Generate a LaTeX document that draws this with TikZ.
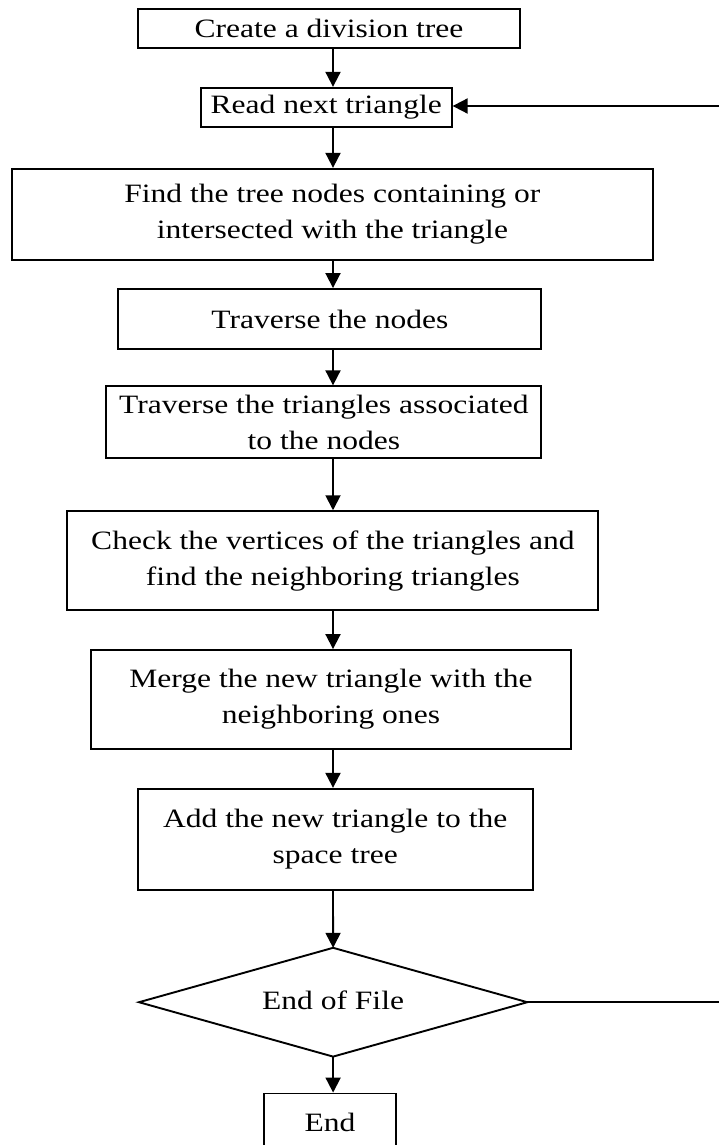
\documentclass[tikz,border=0pt]{standalone}
\usepackage{fontspec}
\setmainfont{Liberation Serif}[FakeStretch=1.19]
\usetikzlibrary{arrows.meta}
\begin{document}
\begin{tikzpicture}[x=1pt,y=-1pt,
  box/.style={draw,line width=1.9pt,inner sep=0pt,align=center,font=\fontsize{26.5}{36}\selectfont},
  label/.style={inner sep=0pt,align=center,font=\fontsize{26.5}{36}\selectfont},
  arr/.style={line width=1.9pt,-{Triangle[length=15pt,width=15pt]}},
  outline/.style={line width=1.9pt,line join=miter}]
\useasboundingbox (0,0) rectangle (719,1145);
\clip (0,0) rectangle (719,1145);
\fill[white] (0,0) rectangle (719,1145);
\coordinate (ax) at (333,0);
\node[box,minimum width=382pt,minimum height=39pt] (create) at (329,28.5) {Create a division tree};
\node[box,minimum width=251pt,minimum height=39pt] (read) at (326.2,107.3) {Read next triangle};
\node[box,minimum width=641pt,minimum height=91pt] (find) at (332.4,214.3) {Find the tree nodes containing or\\intersected with the triangle};
\node[box,minimum width=423pt,minimum height=60pt] (trav1) at (329.9,319) {Traverse the nodes};
\node[box,minimum width=435pt,minimum height=72pt] (trav2) at (323.9,422.3) {Traverse the triangles associated\\to the nodes};
\node[box,minimum width=531pt,minimum height=99pt] (check) at (332.9,560.7) {Check the vertices of the triangles and\\find the neighboring triangles};
\node[box,minimum width=480pt,minimum height=99pt] (merge) at (331,699.5) {Merge the new triangle with the\\neighboring ones};
\node[box,minimum width=395pt,minimum height=101pt] (add) at (335.2,839.3) {Add the new triangle to the\\space tree};
\coordinate (eofW) at (139,1002.2);
\coordinate (eofN) at (333.1,947.8);
\coordinate (eofE) at (527.3,1002.2);
\coordinate (eofS) at (333.1,1056.6);
\draw[outline] (eofW) -- (eofN) -- (eofE) -- (eofS) -- cycle;
\node[label] (eof) at (333.1,1000) {End of File};
\node[box,minimum width=131.7pt,minimum height=58pt] (end) at (329.9,1122.5) {End};
\coordinate (fb1) at (721,1002.2);
\coordinate (fb2) at (721,106);
\draw[arr] (create.south -| ax) -- (read.north -| ax);
\draw[arr] (read.south -| ax) -- (find.north -| ax);
\draw[arr] (find.south -| ax) -- (trav1.north -| ax);
\draw[arr] (trav1.south -| ax) -- (trav2.north -| ax);
\draw[arr] (trav2.south -| ax) -- (check.north -| ax);
\draw[arr] (check.south -| ax) -- (merge.north -| ax);
\draw[arr] (merge.south -| ax) -- (add.north -| ax);
\draw[arr] (add.south -| ax) -- (eofN);
\draw[arr] (eofS) -- (end.north -| eofS);
\draw[arr] (eofE) -- (fb1) -- (fb2) -- (read.east |- fb2);
\end{tikzpicture}
\end{document}
